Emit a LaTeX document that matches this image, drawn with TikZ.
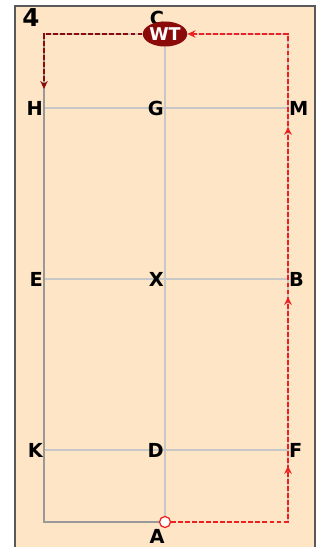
\documentclass[tikz,border=0pt]{standalone}
\usepackage{fontspec}
\setsansfont{DejaVu Sans}
\usetikzlibrary{arrows.meta,decorations.markings,positioning,shapes.geometric}

\definecolor{sand}{HTML}{FDE5C6}
\definecolor{wine}{HTML}{8B0A0A}
\definecolor{track}{HTML}{EE2020}

\begin{document}
\begin{tikzpicture}[
    letter/.style={font=\fontsize{11}{13}\selectfont\sffamily\bfseries, inner sep=0.5pt},
    grid/.style={draw=black!22, line width=0.7pt},
    rim/.style={draw=black!40, line width=1pt},
    tip/.style={-{Stealth[length=1.6mm,width=1.5mm]}},
    redpath/.style={draw=track, line width=1pt, dash pattern=on 2.8pt off 1.2pt},
    darkpath/.style={draw=wine, line width=1pt, dash pattern=on 2.8pt off 1.2pt},
    upmarks/.style={postaction={decorate, decoration={markings,
        mark=at position 3.46cm with {\arrow[track]{Stealth[length=1.6mm,width=1.5mm]}},
        mark=at position 6.84cm with {\arrow[track]{Stealth[length=1.6mm,width=1.5mm]}},
        mark=at position 10.24cm with {\arrow[track]{Stealth[length=1.6mm,width=1.5mm]}}}}},
]

\useasboundingbox (0,0) rectangle (6.44,10.94);

% Frame
\draw[fill=sand, draw=black!65, line width=1pt] (0.30,-0.20) rectangle (6.30,10.82);
\node[font=\fontsize{14}{16}\selectfont\sffamily\bfseries, inner sep=0pt] (num) at (0.62,10.58) {4};

% ====== Arena points ======
\coordinate (tl) at (0.88,10.26);
\coordinate (C)  at (3.30,10.26);
\coordinate (tr) at (5.76,10.26);
\coordinate (H)  at (0.88,8.78);
\coordinate (G)  at (3.30,8.78);
\coordinate (M)  at (5.76,8.78);
\coordinate (E)  at (0.88,5.36);
\coordinate (X)  at (3.30,5.36);
\coordinate (B)  at (5.76,5.36);
\coordinate (K)  at (0.88,1.94);
\coordinate (D)  at (3.30,1.94);
\coordinate (F)  at (5.76,1.94);
\coordinate (bl) at (0.88,0.50);
\coordinate (A)  at (3.30,0.50);
\coordinate (br) at (5.76,0.50);

% ====== Arena lines ======
\draw[grid] (tl) -- (tr) -- (br);
\draw[grid] (H) -- (M);
\draw[grid] (E) -- (B);
\draw[grid] (K) -- (F);
\draw[grid] (C) -- (A);
\draw[rim] (tl) -- (bl) -- (A);

% ====== Letters ======
\node[letter] (lblC) at (3.14,10.58) {C};
\node[letter, anchor=east]  (lblH) at (H) {H};
\node[letter, anchor=east]  (lblG) at (G) {G};
\node[letter, anchor=west]  (lblM) at (M) {M};
\node[letter, anchor=east]  (lblE) at (E) {E};
\node[letter, anchor=east]  (lblX) at (X) {X};
\node[letter, anchor=west]  (lblB) at (B) {B};
\node[letter, anchor=east]  (lblK) at (K) {K};
\node[letter, anchor=east]  (lblD) at (D) {D};
\node[letter, anchor=west]  (lblF) at (F) {F};
\node[letter] (lblA) at (3.14,0.22) {A};

% ====== Markers ======
\node[ellipse, fill=wine, minimum width=0.62cm, minimum height=0.5cm, inner sep=0pt,
      text=white, font=\fontsize{10}{12}\selectfont\sffamily\bfseries] (wt) at (C) {WT};
\node[circle, draw=track, fill=white, line width=0.7pt, minimum size=0.22cm, inner sep=0pt] (start) at (A) {};

% ====== Paths ======
\coordinate (hend) at (0.88,9.16);
\draw[redpath, upmarks, tip] (start) -- (br) -- (tr) -- (wt);
\draw[darkpath, tip] (wt) -- (tl) -- (hend);

\end{tikzpicture}
\end{document}
